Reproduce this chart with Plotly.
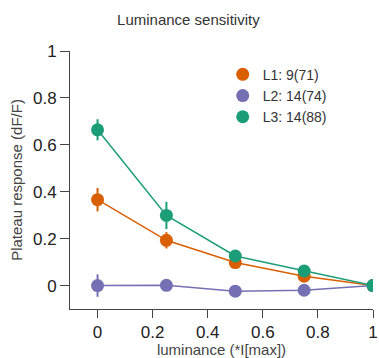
import plotly.graph_objects as go

luminance = [0, 0.25, 0.5, 0.75, 1]
l1_vals = [0.366, 0.193, 0.098, 0.040, 0.0]
l1_err = [0.05, 0.035, 0.012, 0.01, 0.005]
l2_vals = [0.0, 0.001, -0.024, -0.02, 0.0]
l2_err = [0.048, 0.01, 0.01, 0.01, 0.005]
l3_vals = [0.664, 0.299, 0.126, 0.062, 0.0]
l3_err = [0.045, 0.058, 0.015, 0.012, 0.005]
names = ["L1: 9(71)", "L2: 14(74)", "L3: 14(88)"]
colors = ["#D95F02", "#7570B3", "#1B9E77"]
ticks = [0, 0.2, 0.4, 0.6, 0.8, 1]
tick_labels = ["0", "0.2", "0.4", "0.6", "0.8", "1"]

fig = go.Figure()
for name, vals, err, c in zip(names, [l1_vals, l2_vals, l3_vals], [l1_err, l2_err, l3_err], colors):
    fig.add_trace(go.Scatter(
        x=luminance, y=vals, name=name, mode="lines+markers", showlegend=False,
        line=dict(color=c, width=1.5),
        marker=dict(color=c, size=13),
        error_y=dict(type="data", array=err, color=c, thickness=2, width=0),
    ))
# legend entries: markers only
for name, c in zip(names, colors):
    fig.add_trace(go.Scatter(x=[None], y=[None], name=name, mode="markers",
                             marker=dict(color=c, size=13)))

fig.update_layout(
    width=379, height=358,
    margin=dict(l=70, r=6, t=51, b=49, autoexpand=False),
    paper_bgcolor="white", plot_bgcolor="white",
    font=dict(family="Liberation Sans, Arial, sans-serif", color="#222"),
    title=dict(text="Luminance sensitivity", x=0.497, xanchor="center", y=0.944, yanchor="middle",
               font=dict(size=15, color="#333")),
    legend=dict(x=0.504, y=0.97, xanchor="left", yanchor="top", bgcolor="rgba(0,0,0,0)",
                font=dict(size=14, color="#333"), itemwidth=30, tracegroupgap=0),
    showlegend=True,
)
fig.update_xaxes(range=[-0.1, 1.0], tickvals=ticks, ticktext=tick_labels,
                 showline=True, linecolor="#444", linewidth=1, ticks="outside", ticklen=8, tickcolor="#444",
                 showgrid=False, zeroline=False, tickfont=dict(size=17, color="#222"),
                 title=dict(text="luminance (*I[max])", font=dict(size=15, color="#444"), standoff=2))
fig.update_yaxes(range=[-0.1, 1.0], tickvals=ticks, ticktext=tick_labels,
                 showline=True, linecolor="#444", linewidth=1, ticks="outside", ticklen=9, tickcolor="#444",
                 showgrid=False, zeroline=False, tickfont=dict(size=17, color="#222"),
                 title=dict(text="Plateau response (dF/F)", font=dict(size=15, color="#444"), standoff=6))

fig.write_html("out.html", config={"displayModeBar": False},
               post_script="document.body.style.margin='0';")
